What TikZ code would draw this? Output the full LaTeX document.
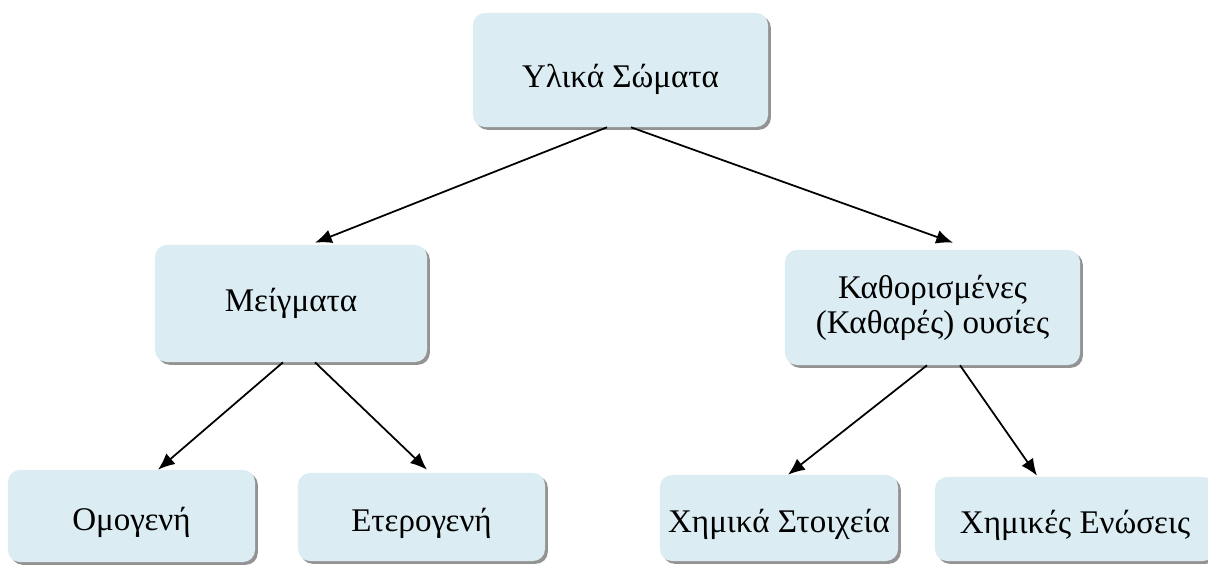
\documentclass[tikz,border=0pt]{standalone}
\usepackage{fontspec}
\setmainfont{Liberation Serif}
\usepackage{tikz}
\usetikzlibrary{shadows,calc,arrows.meta}
\definecolor{boxfill}{RGB}{219,237,243}
\tikzset{
    box/.style={rounded corners=0.3cm,fill=boxfill,align=center,
        font=\fontsize{23.5}{25}\selectfont,
        general shadow={fill=gray!85,shadow xshift=0.07cm,shadow yshift=-0.07cm}},
    lowbox/.style={box,text depth=0pt,text height=0.7cm},
    arr/.style={line width=1.25pt,-{Latex[length=0.42cm,width=0.35cm]}}
}

\begin{document}
\begin{tikzpicture}[x=0.025cm,y=-0.025cm]
                            \useasboundingbox (0,0) rectangle (1208,565);
                            \clip (0,0) rectangle (1208,565);
                            \node[box,text depth=0pt,text height=0.85cm,minimum width=7.375cm,minimum height=2.85cm] (body) at (620.5,70) {Υλικά Σώματα};
                            \node[box,minimum width=6.8cm,minimum height=2.925cm] (mix) at (291,303.5) {Μείγματα};
                            \node[box,minimum width=7.375cm,minimum height=2.875cm] (pure) at (932.5,307.5) {Καθορισμένες\\(Καθαρές) ουσίες};
                            \node[lowbox,minimum width=6.175cm,minimum height=2.3cm] (homo) at (131.5,516) {Ομογενή};
                            \node[lowbox,minimum width=6.175cm,minimum height=2.2cm] (hetero) at (421.5,517) {Ετερογενή};
                            \node[lowbox,minimum width=5.95cm,minimum height=2.15cm] (elem) at (779,518) {Χημικά Στοιχεία};
                            \node[lowbox,minimum width=7cm,minimum height=2.1cm] (comp) at (1075,519) {Χημικές Ενώσεις};
                            \draw[arr] ($(body.south)+(-13.5,0)$) -- ($(mix.north)+(24,-2)$);
                            \draw[arr] ($(body.south)+(10.5,0)$) -- ($(pure.north)+(20.5,-7)$);
                            \draw[arr] ($(mix.south)+(-8,0)$) -- ($(homo.north)+(26.5,0)$);
                            \draw[arr] ($(mix.south)+(24,0)$) -- ($(hetero.north)+(5.5,-3)$);
                            \draw[arr] ($(pure.south)+(-5.5,0)$) -- ($(elem.north)+(9,0)$);
                            \draw[arr] ($(pure.south)+(27.5,0)$) -- ($(comp.north)+(-38,-1)$);
                        \end{tikzpicture}
\end{document}
